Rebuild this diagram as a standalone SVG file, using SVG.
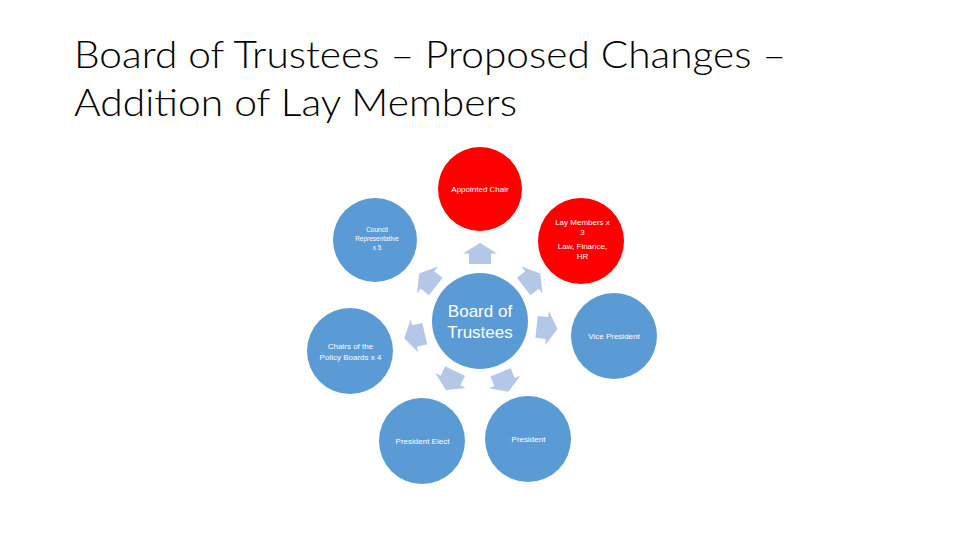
<svg xmlns="http://www.w3.org/2000/svg" width="960" height="540" viewBox="0 0 960 540">
  <defs>
    <style>
      .title { font-family: "Lato", "Liberation Sans", sans-serif; font-weight: 300; font-size: 38px; fill: #000000; }
      .blue { fill: #5B9BD5; }
      .red { fill: #FF0000; }
      .lbl { font-family: "Liberation Sans", "Noto Sans", sans-serif; font-size: 8px; fill: #FFFFFF; text-anchor: middle; }
      .small { font-size: 6.5px; }
      .big { font-size: 17px; }
      .arrow { fill: #B4C7E7; }
    </style>
    <path id="arr" d="M-10.5,-11 H0 V-17 L10.5,0 L0,17 V11 H-10.5 Z"/>
  </defs>
  <rect width="960" height="540" fill="#FFFFFF"/>

  <g id="title">
    <text class="title" x="74" y="68" textLength="712" lengthAdjust="spacingAndGlyphs">Board of Trustees – Proposed Changes –</text>
    <text class="title" x="74" y="115.5" textLength="443" lengthAdjust="spacingAndGlyphs">Addition of Lay Members</text>
  </g>

  <g id="connectors">
    <use href="#arr" class="arrow" transform="translate(480,253.5) rotate(-90)"/>
    <use href="#arr" class="arrow" transform="translate(532,280) rotate(-38)"/>
    <use href="#arr" class="arrow" transform="translate(547,328) rotate(6)"/>
    <use href="#arr" class="arrow" transform="translate(504.5,382) rotate(68)"/>
    <use href="#arr" class="arrow" transform="translate(450.5,380.5) rotate(116)"/>
    <use href="#arr" class="arrow" transform="translate(414.5,336) rotate(167)"/>
    <use href="#arr" class="arrow" transform="translate(427.5,280) rotate(218)"/>
  </g>

  <g id="board-of-trustees">
    <circle class="blue" cx="480" cy="321" r="48"/>
    <text class="lbl big" x="480" y="317">Board of</text>
    <text class="lbl big" x="480" y="337.5">Trustees</text>
  </g>

  <g id="appointed-chair">
    <circle class="red" cx="480" cy="189" r="42"/>
    <text class="lbl" x="480" y="192">Appointed Chair</text>
  </g>

  <g id="lay-members">
    <circle class="red" cx="581" cy="241" r="43"/>
    <text class="lbl" x="582.5" y="225">Lay Members x</text>
    <text class="lbl" x="582.5" y="235">3</text>
    <text class="lbl" x="582.5" y="249">Law, Finance,</text>
    <text class="lbl" x="582.5" y="258.5">HR</text>
  </g>

  <g id="vice-president">
    <circle class="blue" cx="614" cy="336" r="43"/>
    <text class="lbl" x="614" y="339">Vice President</text>
  </g>

  <g id="president">
    <circle class="blue" cx="528" cy="439" r="43"/>
    <text class="lbl" x="528.5" y="442">President</text>
  </g>

  <g id="president-elect">
    <circle class="blue" cx="422" cy="441" r="43"/>
    <text class="lbl" x="422.5" y="443.5">President Elect</text>
  </g>

  <g id="chairs-policy-boards">
    <circle class="blue" cx="350" cy="351" r="43"/>
    <text class="lbl" x="350.5" y="349">Chairs of the</text>
    <text class="lbl" x="350.5" y="360">Policy Boards x 4</text>
  </g>

  <g id="council-representative">
    <circle class="blue" cx="375" cy="240" r="42"/>
    <text class="lbl small" x="377" y="231.5">Council</text>
    <text class="lbl small" x="377" y="240.5">Representative</text>
    <text class="lbl small" x="377" y="249.5">x 5</text>
  </g>
</svg>
